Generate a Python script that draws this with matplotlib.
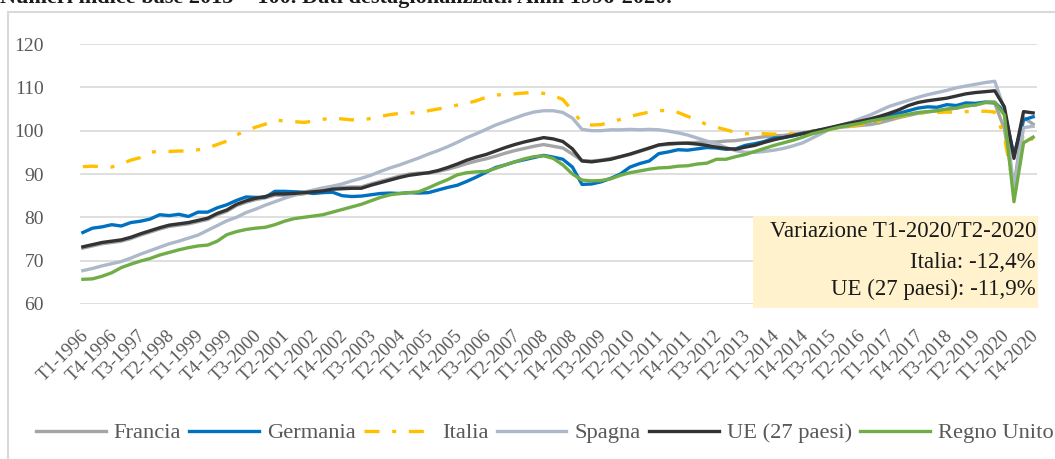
"""Pil trimestrale: Francia, Germania, Italia, Spagna, UE (27 paesi), Regno Unito.

Numeri indice base 2015 = 100, T1-1996 / T4-2020. Output: out.png
"""

import matplotlib
matplotlib.use("Agg")
import matplotlib.pyplot as plt
import matplotlib.transforms as mtransforms
from matplotlib.patches import Rectangle

plt.rcParams["font.family"] = ["Liberation Serif", "DejaVu Serif"]

# ── Dati (4 valori per anno, T1..T4) ──
years = list(range(1996, 2021))
quarters = [f"T{q}-{y}" for y in years for q in range(1, 5)]

francia = [
    72.9, 73.4, 73.9, 74.2,  74.5, 75.1, 75.9, 76.6,  77.3, 77.9, 78.2, 78.5,
    79.0, 79.5, 80.6, 81.4,  82.7, 83.5, 84.1, 84.5,  85.1, 85.1, 85.2, 85.4,
    86.2, 86.4, 86.8, 86.9,  87.0, 87.0, 87.7, 88.3,  88.9, 89.5, 90.0, 90.2,
    90.2, 90.6, 91.1, 91.7,  92.4, 93.0, 93.5, 94.1,  94.8, 95.4, 95.9, 96.4,
    96.8, 96.4, 96.0, 94.6,  93.1, 93.0, 93.2, 93.6,  94.0, 94.5, 95.2, 95.9,
    96.7, 96.8, 97.0, 97.2,  97.3, 97.4, 97.4, 97.6,  97.7, 98.0, 98.3, 98.6,
    98.8, 98.9, 99.2, 99.5,  99.9, 100.2, 100.5, 100.8,  101.0, 101.2, 101.4, 101.8,
    102.4, 103.0, 103.5, 104.0,  104.3, 104.6, 104.9, 105.2,  105.6, 106.0, 106.5, 106.3,
    100.4, 87.0, 103.0, 101.5,
]
germania = [
    76.5, 77.5, 77.8, 78.3,  78.0, 78.8, 79.1, 79.6,  80.6, 80.4, 80.7, 80.2,
    81.2, 81.2, 82.2, 82.9,  83.9, 84.7, 84.6, 84.6,  86.0, 86.0, 85.9, 85.8,
    85.5, 85.7, 85.8, 85.0,  84.8, 84.9, 85.2, 85.5,  85.6, 85.5, 85.7, 85.6,
    85.7, 86.3, 86.9, 87.4,  88.3, 89.3, 90.4, 91.5,  92.1, 92.8, 93.3, 93.8,
    94.3, 93.9, 93.4, 91.6,  87.6, 87.7, 88.2, 89.0,  90.0, 91.6, 92.4, 93.0,
    94.7, 95.1, 95.6, 95.5,  95.8, 96.1, 96.0, 95.7,  95.8, 96.6, 97.0, 97.5,
    98.3, 98.4, 98.8, 99.4,  99.8, 100.2, 100.6, 101.1,  101.6, 101.9, 102.3, 102.8,
    103.5, 104.0, 104.6, 105.2,  105.5, 105.4, 106.0, 105.8,  106.4, 106.3, 106.6, 106.5,
    104.4, 94.4, 102.5, 103.2,
]
italia = [
    91.7, 91.8, 91.7, 91.6,  92.3, 93.2, 93.8, 95.0,  95.3, 95.2, 95.3, 95.3,
    95.6, 96.0, 96.8, 97.6,  99.0, 100.0, 100.8, 101.5,  102.5, 102.2, 102.1, 101.9,
    102.2, 102.6, 103.0, 102.7,  102.5, 102.5, 102.8, 103.3,  103.7, 104.0, 104.1, 104.1,
    104.6, 105.0, 105.4, 105.9,  106.3, 106.9, 107.7, 108.2,  108.4, 108.5, 108.7, 108.8,
    108.6, 108.1, 107.2, 104.6,  101.8, 101.3, 101.4, 102.0,  102.6, 103.3, 103.8, 104.3,
    104.6, 104.7, 104.2, 103.3,  102.4, 101.4, 100.8, 100.2,  99.6, 99.3, 99.4, 99.3,
    99.2, 99.3, 99.4, 99.5,  99.8, 100.1, 100.4, 100.7,  101.0, 101.4, 101.8, 102.2,
    102.8, 103.3, 103.6, 104.0,  104.2, 104.2, 104.3, 104.2,  104.4, 104.4, 104.5, 104.3,
    98.6, 86.4, 99.7, 97.8,
]
spagna = [
    67.7, 68.2, 68.8, 69.3,  69.8, 70.6, 71.5, 72.3,  73.1, 73.9, 74.5, 75.2,
    75.9, 77.0, 78.1, 79.2,  80.0, 81.1, 81.9, 82.8,  83.6, 84.4, 85.1, 85.8,
    86.3, 86.8, 87.2, 87.7,  88.4, 89.0, 89.7, 90.6,  91.4, 92.1, 92.9, 93.7,
    94.6, 95.4, 96.3, 97.3,  98.4, 99.3, 100.3, 101.3,  102.1, 102.9, 103.7, 104.3,
    104.6, 104.6, 104.2, 102.9,  100.3, 100.0, 100.0, 100.2,  100.2, 100.3, 100.2, 100.3,
    100.2, 99.9, 99.5, 99.0,  98.3, 97.6, 97.0, 96.1,  95.4, 95.0, 95.0, 95.2,
    95.5, 95.9, 96.5, 97.2,  98.3, 99.4, 100.6, 101.3,  101.9, 102.8, 103.6, 104.6,
    105.6, 106.3, 107.0, 107.7,  108.3, 108.8, 109.3, 109.9,  110.3, 110.7, 111.1, 111.4,
    105.0, 86.5, 100.7, 101.0,
]
ue27 = [
    73.2, 73.7, 74.2, 74.5,  74.8, 75.4, 76.2, 76.9,  77.6, 78.2, 78.5, 78.8,
    79.3, 79.8, 80.9, 81.7,  83.0, 83.8, 84.4, 84.8,  85.4, 85.4, 85.5, 85.7,
    85.9, 86.1, 86.5, 86.6,  86.7, 86.7, 87.4, 88.0,  88.6, 89.2, 89.7, 90.0,
    90.3, 90.8, 91.5, 92.3,  93.2, 93.9, 94.5, 95.3,  96.1, 96.8, 97.4, 97.9,
    98.4, 98.1, 97.5, 95.8,  93.0, 92.8, 93.1, 93.4,  94.0, 94.6, 95.3, 96.0,
    96.7, 97.0, 97.1, 97.1,  96.9, 96.6, 96.2, 95.9,  95.7, 96.2, 96.6, 97.3,
    97.9, 98.4, 98.9, 99.3,  99.8, 100.3, 100.8, 101.3,  101.8, 102.2, 102.7, 103.3,
    104.0, 104.8, 105.8, 106.5,  106.9, 107.2, 107.5, 108.0,  108.5, 108.8, 109.0, 109.2,
    105.5, 93.6, 104.4, 104.1,
]
regno_unito = [
    65.7, 65.8, 66.4, 67.2,  68.4, 69.2, 69.9, 70.5,  71.3, 71.9, 72.5, 73.0,
    73.4, 73.6, 74.5, 76.0,  76.7, 77.2, 77.5, 77.7,  78.3, 79.1, 79.7, 80.0,
    80.3, 80.6, 81.2, 81.8,  82.4, 83.0, 83.8, 84.6,  85.2, 85.5, 85.7, 85.9,
    86.8, 87.8, 88.7, 89.8,  90.3, 90.5, 90.6, 91.3,  92.1, 92.8, 93.5, 94.0,
    94.2, 93.6, 92.1, 90.0,  88.6, 88.4, 88.5, 88.9,  89.7, 90.3, 90.7, 91.1,
    91.4, 91.5, 91.8, 91.9,  92.3, 92.5, 93.4, 93.4,  94.0, 94.5, 95.2, 95.9,
    96.6, 97.2, 97.8, 98.5,  99.3, 99.8, 100.4, 100.9,  101.3, 101.7, 102.2, 102.6,
    103.0, 103.4, 103.8, 104.2,  104.4, 104.6, 105.0, 105.2,  105.8, 105.9, 106.5, 106.6,
    103.6, 83.6, 97.2, 98.5,
]

note_lines = ["Variazione T1-2020/T2-2020", "Italia: -12,4%", "UE (27 paesi): -11,9%"]
title = "Numeri indice base 2015 = 100. Dati destagionalizzati. Anni 1996-2020."

W, H = 1055, 459
fig = plt.figure(figsize=(W / 100, H / 100), dpi=100)
ax = fig.add_axes([80 / W, 1 - 304 / H, 957 / W, 260 / H])

x = list(range(len(quarters)))
lw = 2.4
ax.plot(x, francia, color="#A5A5A5", lw=lw, label="Francia")
ax.plot(x, germania, color="#0070C0", lw=lw, label="Germania")
ax.plot(x, italia, color="#FFC000", lw=lw, label="Italia",
        dashes=(4.5, 3.8, 1.2, 3.8))
ax.plot(x, spagna, color="#ADB9CA", lw=lw, label="Spagna")
ax.plot(x, ue27, color="#333333", lw=lw, label="UE (27 paesi)")
ax.plot(x, regno_unito, color="#70AD47", lw=lw, label="Regno Unito")

# ── Assi ──
ax.set_ylim(60, 120)
ax.set_yticks(range(60, 121, 10))
ax.set_xlim(-0.3, len(quarters) - 0.6)
ax.set_xticks(x[::3])
ax.set_xticklabels(quarters[::3])
ax.grid(axis="y", color="#D9D9D9", lw=1.2)
ax.set_axisbelow(True)
for s in ax.spines.values():
    s.set_visible(False)
ax.tick_params(axis="both", length=0, colors="#595959", labelsize=14)
ax.tick_params(axis="y", pad=26)
ax.tick_params(axis="x", pad=21)
shift = mtransforms.ScaledTranslation(3 / 100, 0, fig.dpi_scale_trans)
for lab in ax.get_xticklabels():
    lab.set_rotation(45)
    lab.set_ha("right")
    lab.set_va("center")
    lab.set_rotation_mode("anchor")
    lab.set_fontsize(13.5)
    lab.set_transform(lab.get_transform() + shift)

# ── Riquadro note ──
fig.patches.append(Rectangle((753 / W, 1 - 308 / H), 285 / W, 92 / H,
                             transform=fig.transFigure, facecolor="#FFF2CC",
                             edgecolor="none", zorder=3))
for txt, yb in zip(note_lines, [237, 268, 295]):
    fig.text(1036 / W, 1 - yb / H, txt, ha="right", va="baseline",
             fontsize=16.5, color="#1a1a1a", zorder=4)

# ── Cornice del grafico e titolo (tagliato in alto come nell'originale) ──
fig.patches.append(Rectangle((8 / W, -0.1), 1.2, 1 - 12 / H + 0.1,
                             transform=fig.transFigure, fill=False,
                             edgecolor="#D9D9D9", lw=1.5))
fig.text(0, 1 - 3 / H, title, ha="left", va="baseline", fontsize=16,
         fontweight="bold", color="#1a1a1a")

leg = fig.legend(loc="center left", bbox_to_anchor=(36 / W, 1 - 433 / H),
                 ncol=6, frameon=False, fontsize=16.2, handlelength=3.1,
                 handletextpad=0.36, columnspacing=0.36, borderpad=0,
                 borderaxespad=0)
for t in leg.get_texts():
    t.set_color("#595959")

fig.savefig("out.png", dpi=100)
